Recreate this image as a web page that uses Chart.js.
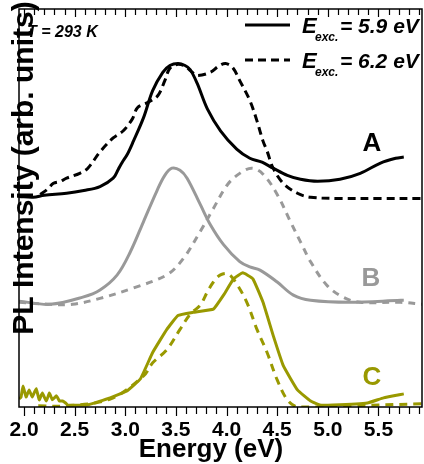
<!DOCTYPE html>
<html>
<head>
<meta charset="utf-8">
<script src="https://cdn.jsdelivr.net/npm/chart.js@4"></script>
<style>
  body { margin: 0; background: #fff; }
  #wrap { width: 424px; height: 464px; }
</style>
</head>
<body>
<div id="wrap"><canvas id="myChart"></canvas></div>
<script>
// energies (eV) and intensities (arb. units, curves offset as in the figure)
var aSolidE = [1.95, 2.09, 2.20, 2.42, 2.59, 2.75, 2.88, 2.93, 2.97, 3.02, 3.08, 3.18, 3.27, 3.37, 3.44, 3.52, 3.59, 3.64, 3.71, 3.81, 3.94, 4.10, 4.23, 4.35, 4.46, 4.60, 4.73, 4.90, 5.12, 5.32, 5.52, 5.67, 5.75];
var aSolidI = [52.9, 52.7, 53.2, 53.7, 54.4, 55.4, 57.5, 59.7, 61.5, 63.5, 66.8, 72.7, 79.5, 84.1, 85.8, 86.3, 85.8, 84.8, 81.3, 74.9, 69.4, 64.8, 62.5, 61.5, 60.0, 58.2, 57.2, 56.7, 57.2, 58.7, 61.3, 62.5, 62.8];
var aDashE = [2.16, 2.23, 2.29, 2.36, 2.42, 2.55, 2.63, 2.75, 2.88, 2.98, 3.07, 3.12, 3.22, 3.32, 3.39, 3.44, 3.52, 3.59, 3.66, 3.71, 3.84, 3.92, 3.99, 4.06, 4.13, 4.23, 4.30, 4.36, 4.40, 4.46, 4.56, 4.70, 4.83, 5.12, 5.52, 5.93];
var aDashI = [53.4, 54.7, 56.2, 56.7, 57.5, 58.7, 60.0, 64.1, 67.6, 69.4, 72.4, 75.2, 76.5, 78.2, 82.0, 85.1, 86.1, 85.6, 84.1, 83.3, 84.1, 85.6, 86.3, 85.3, 82.0, 77.0, 71.9, 66.8, 64.3, 60.0, 56.2, 53.7, 52.7, 52.4, 52.4, 52.4];
var bSolidE = [1.95, 2.26, 2.58, 2.75, 2.92, 3.05, 3.18, 3.31, 3.39, 3.46, 3.54, 3.61, 3.74, 3.84, 3.97, 4.13, 4.23, 4.33, 4.50, 4.66, 4.83, 5.22, 5.72, 5.75];
var bSolidI = [26.6, 25.8, 27.6, 29.4, 33.2, 39.0, 46.6, 54.2, 58.2, 60.0, 59.5, 57.5, 50.9, 45.8, 40.8, 36.5, 35.2, 34.4, 31.4, 28.1, 26.8, 26.3, 26.8, 26.8];
var bDashE = [1.95, 2.26, 2.48, 2.75, 3.08, 3.41, 3.57, 3.74, 3.87, 4.01, 4.13, 4.25, 4.36, 4.50, 4.63, 4.73, 4.83, 4.99, 5.15, 5.32, 5.72, 5.93];
var bDashI = [26.3, 25.8, 25.8, 27.3, 29.9, 33.2, 37.2, 44.1, 49.9, 55.9, 58.7, 60.0, 58.5, 53.4, 46.6, 41.5, 36.5, 30.6, 27.6, 26.3, 26.3, 25.8];
var cSolidE = [1.95, 1.97, 1.99, 2.02, 2.05, 2.08, 2.12, 2.15, 2.18, 2.22, 2.25, 2.28, 2.32, 2.35, 2.38, 2.41, 2.43, 2.62, 2.85, 3.02, 3.15, 3.27, 3.41, 3.52, 3.67, 3.87, 3.97, 4.07, 4.16, 4.26, 4.36, 4.46, 4.56, 4.70, 4.83, 4.92, 5.05, 5.39, 5.55, 5.75];
var cSolidI = [2.0, 2.5, 5.3, 2.5, 4.3, 2.5, 4.6, 1.8, 3.5, 1.5, 3.5, 1.8, 2.8, 1.5, 1.5, 1.0, 0.5, 0.5, 2.3, 4.1, 7.1, 13.7, 19.5, 23.0, 23.8, 24.6, 28.1, 32.2, 33.7, 32.2, 26.3, 18.0, 10.4, 4.3, 1.5, 0.5, 0.5, 1.0, 2.3, 3.3];
var cDashE = [2.14, 2.42, 2.85, 3.18, 3.27, 3.41, 3.54, 3.64, 3.74, 3.81, 3.87, 3.94, 4.02, 4.10, 4.20, 4.30, 4.40, 4.50, 4.60, 4.70, 4.90, 5.22, 5.93];
var cDashI = [0.3, 0.3, 2.0, 7.8, 11.1, 14.4, 19.5, 23.3, 25.6, 28.9, 31.4, 33.2, 33.4, 30.9, 26.3, 19.5, 13.7, 6.8, 1.8, 0.0, 0.0, 0.3, 0.8];

var xMajorLabels = [2.0, 2.5, 3.0, 3.5, 4.0, 4.5, 5.0, 5.5];
var curveLabels = ["A", "B", "C"];
var excEnergies = ["5.9", "6.2"];

var black = "#000000";
var grey = "#999999";
var olive = "#999900";
var fontFam = "'Liberation Sans', Arial, sans-serif";

function pts(xs, ys) {
  return xs.map(function (x, i) { return { x: x, y: ys[i] }; });
}

var minorTicks = [];
for (var t = 20; t <= 59; t++) minorTicks.push(t / 10);

function isMajor(v) {
  return xMajorLabels.some(function (m) { return Math.abs(m - v) < 1e-6; });
}

// frame, tick marks, texts
var decor = {
  id: "decor",
  afterDraw: function (chart) {
    var ctx = chart.ctx;
    var a = chart.chartArea;
    var xs = chart.scales.x;
    ctx.save();
    ctx.strokeStyle = black;
    ctx.lineWidth = 1.5;
    ctx.strokeRect(a.left, a.top, a.right - a.left, a.bottom - a.top);
    ctx.lineWidth = 1.2;
    minorTicks.forEach(function (v) {
      var px = Math.round(xs.getPixelForValue(v)) + 0.5;
      var major = isMajor(v);
      ctx.beginPath();
      ctx.moveTo(px, a.top);
      ctx.lineTo(px, a.top + (major ? 8 : 6));
      ctx.moveTo(px, a.bottom);
      ctx.lineTo(px, a.bottom + (major ? 9 : 7));
      ctx.stroke();
    });

    // legend
    ctx.lineWidth = 3;
    ctx.beginPath(); ctx.moveTo(245, 25); ctx.lineTo(290, 25); ctx.stroke();
    ctx.setLineDash([8, 5]);
    ctx.beginPath(); ctx.moveTo(245, 60); ctx.lineTo(290, 60); ctx.stroke();
    ctx.setLineDash([]);
    ctx.fillStyle = black;
    ctx.textBaseline = "alphabetic";
    ctx.textAlign = "left";
    [33, 68].forEach(function (base, i) {
      ctx.font = "italic bold 22px " + fontFam;
      ctx.fillText("E", 302, base);
      ctx.font = "italic bold 12px " + fontFam;
      ctx.fillText("exc.", 315, base + 8);
      ctx.font = "italic bold 21px " + fontFam;
      ctx.fillText("= " + excEnergies[i] + " eV", 340, base);
    });

    ctx.font = "italic bold 16px " + fontFam;
    ctx.fillText("T = 293 K", 27, 37);

    // x title
    ctx.font = "bold 26px " + fontFam;
    ctx.textAlign = "center";
    ctx.fillText("Energy (eV)", 211, 457);

    // curve labels
    ctx.textBaseline = "middle";
    ctx.fillStyle = black; ctx.fillText(curveLabels[0], 372, 144);
    ctx.fillStyle = grey; ctx.fillText(curveLabels[1], 371, 279);
    ctx.fillStyle = olive; ctx.fillText(curveLabels[2], 372, 378);

    // y title over the axis
    ctx.fillStyle = black;
    ctx.font = "bold 30px " + fontFam;
    ctx.textBaseline = "alphabetic";
    ctx.translate(33, 168);
    ctx.rotate(-Math.PI / 2);
    ctx.fillText("PL Intensity (arb. units)", 0, 0);
    ctx.restore();
  }
};

window.addEventListener("load", function () {
  var chartdata = document.getElementById("myChart").getContext("2d");
  var chart = new Chart(chartdata, {
    type: "line",
    data: {
      datasets: [
        { data: pts(aSolidE, aSolidI), borderColor: black },
        { data: pts(aDashE, aDashI), borderColor: black, borderDash: [8, 5] },
        { data: pts(bSolidE, bSolidI), borderColor: grey },
        { data: pts(bDashE, bDashI), borderColor: grey, borderDash: [7, 6] },
        { data: pts(cSolidE, cSolidI), borderColor: olive, tension: 0.1 },
        { data: pts(cDashE, cDashI), borderColor: olive, borderDash: [8, 6] }
      ]
    },
    options: {
      responsive: true,
      maintainAspectRatio: false,
      animation: false,
      layout: { padding: { left: 19, right: 2, top: 9, bottom: 18 } },
      elements: {
        point: { radius: 0 },
        line: { borderWidth: 3, tension: 0.35, fill: false }
      },
      plugins: { legend: { display: false }, tooltip: { enabled: false } },
      scales: {
        x: {
          type: "linear",
          min: 1.95,
          max: 5.93,
          afterBuildTicks: function (axis) {
            axis.ticks = minorTicks.map(function (v) { return { value: v }; });
          },
          grid: { display: false },
          border: { display: false },
          ticks: {
            autoSkip: false,
            maxRotation: 0,
            padding: 5,
            color: black,
            font: { family: fontFam, size: 21, weight: "bold", lineHeight: 1.0 },
            callback: function (v) {
              return isMajor(v) ? v.toFixed(1) : "";
            }
          }
        },
        y: {
          display: false,
          min: 0,
          max: 100
        }
      }
    },
    plugins: [decor]
  });
});
</script>
</body>
</html>
